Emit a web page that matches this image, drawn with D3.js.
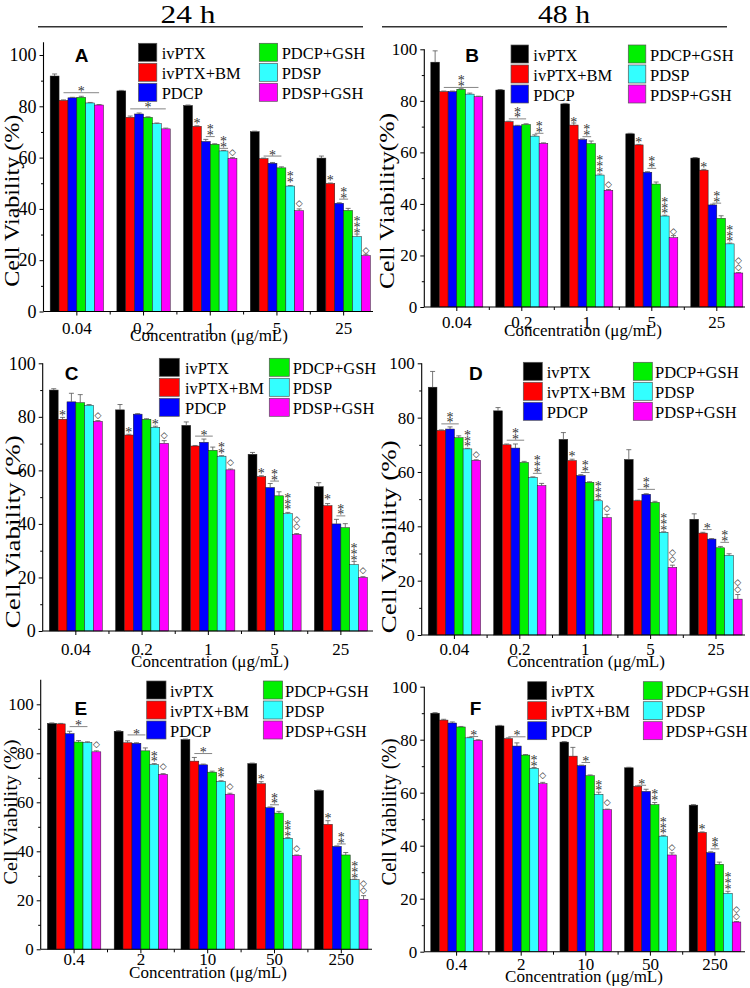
<!DOCTYPE html>
<html><head><meta charset="utf-8">
<script src="https://cdn.jsdelivr.net/npm/d3@7"></script>
<style>body{margin:0;background:#fff}svg{display:block}</style>
</head><body>
<script>
// ---------- DATA ----------
const series = ["ivPTX","ivPTX+BM","PDCP","PDCP+GSH","PDSP","PDSP+GSH"];
const concLow = ["0.04","0.2","1","5","25"];
const concHigh = ["0.4","2","10","50","250"];
const yTicks = [0,20,40,60,80,100];
const yMinor = [10,30,50,70,90];

const valuesA = [[91.8,82.3,83.3,83.5,81.3,80.5],[86,75.7,77,75.7,73.2,71.2],[80.3,72.2,66.3,65.2,62.6,59.7],[70.1,59.6,57.8,56,48.9,39.3],[59.8,49.9,42.2,39.4,29.2,21.8]];
const errorsA = [[0.8,0.2,0.2,0.4,0.2,0.2],[0.2,0.5,0.4,0.2,0.3,0.3],[0.2,0.2,0.8,0.2,0.2,0.3],[0.2,0.2,0.3,0.4,0.2,0.7],[0.8,0.2,0.2,0.8,1.0,0.5]];
const valuesB = [[95,83.6,83.6,84.5,82.6,81.6],[84.2,71.9,70.3,70.8,66.3,63.5],[78.8,70.6,65,63.4,51.2,45.3],[67.2,62.9,52.3,47.7,35.3,26.9],[57.8,53.1,39.6,34.4,24.5,13.2]];
const errorsB = [[4.4,0.2,0.2,0.2,0.4,0.2],[0.2,0.2,0.2,0.3,0.5,0.2],[0.2,0.8,0.2,1,0.4,0.3],[0.2,0.2,0.2,0.8,0.3,0.8],[0.2,0.3,0.3,1,0.3,0.2]];
const valuesC = [[90,79.1,85.6,85.3,84.3,78.3],[82.6,73.2,81,79.1,76.1,70.1],[76.8,69.1,70.5,67.5,65.3,60.2],[66,57.7,53.6,50.5,43.8,36.1],[53.9,46.8,40,38.6,24.8,20]];
const errorsC = [[0.5,0.7,3.2,3,0.3,0.3],[2,0.3,0.2,0.2,0.4,1],[1.3,0.2,1.2,1.2,0.2,0.3],[0.7,0.3,1.5,1.5,0.5,0.3],[1.5,0.8,1.7,1.5,1.2,0.3]];
const valuesD = [[91.2,75.3,75.8,72.6,68.5,64.3],[82.5,70,68.8,63.5,58,55],[72,64.2,58.7,56.2,49.4,43.2],[64.6,49.4,51.8,48.8,37.8,24.9],[42.6,37.5,35.3,32.1,29.3,13.2]];
const errorsD = [[5.8,0.2,0.8,0.7,0.2,0.2],[1.2,0.3,1.5,0.4,0.2,0.8],[2.5,0.5,0.3,0.2,0.5,1.2],[3.6,0.2,0.2,0.4,0.2,0.8],[2,0.3,0.2,0.5,0.6,1.7]];
const valuesE = [[92.2,92,88,84.6,84.4,80.6],[89,84.3,84.1,81,75.4,71.4],[85.6,76.8,75.3,72.3,68.5,63.3],[75.8,67.6,57.8,55.6,45.3,38.3],[64.8,51,42,38.5,28.4,20.4]];
const errorsE = [[0.2,0.2,1,0.6,0.3,0.4],[0.2,0.8,0.2,1.2,0.4,0.3],[0.2,1.5,0.3,0.4,0.3,0.4],[0.2,0.8,0.3,0.7,0.3,0.2],[0.2,1.5,0.2,1,0.2,1.5]];
const valuesF = [[90,87.4,86.3,84.8,80.7,79.8],[85.2,80.4,77.6,74.2,69.2,63.4],[79.1,73.8,70.2,66.4,59.4,53.6],[69.4,62.4,60.5,55.5,43.6,36.5],[55.3,45,37.4,33,22,11.2]];
const errorsF = [[0.2,0.3,0.4,0.2,0.2,0.2],[0.2,0.3,1.2,0.2,0.3,0.5],[0.2,3.3,0.2,0.3,0.8,0.2],[0.2,0.2,0.8,0.8,0.3,0.8],[0.2,0.2,0.3,0.8,0.8,0.2]];

// significance marks: [group, bar position, value of base, symbol, count, bracket from, bracket to]
const marksA = [[0,3,85.3,'*',1,1,5],[1,3,79,'*',1,1,5],[2,1,73.4,'*',1],[2,2.5,68.2,'*',2,2,3],[2,4,63.6,'*',2,3.5,4.5],[2,5,61,'◇',1],[3,2,60.6,'*',1,1,3],[3,4,50.3,'*',2],[3,5,40.8,'◇',1],[4,1,51,'*',1],[4,2.5,43.8,'*',2,2,3],[4,4,30.6,'*',3],[4,5,22.8,'◇',1]];
const marksB = [[0,3,85.2,'*',2,1,5],[1,2,73,'*',2,1,3],[1,4.5,67.4,'*',2,4,5],[2,1,71.5,'*',1],[2,2.5,66.1,'*',2,2,3],[2,4,52.3,'*',3],[2,5,46.5,'◇',1],[3,1,64,'*',1],[3,2.5,53.8,'*',2,2,3],[3,4,36.2,'*',3],[3,5,28,'◇',1],[4,1,54,'*',1],[4,2.5,40.3,'*',2,2,3],[4,4,25.3,'*',3],[4,5,14,'◇',2]];
const marksC = [[0,1,80.5,'*',1],[0,5,79.5,'◇',1],[1,1,74.3,'*',1],[1,4,77.3,'*',1],[1,5,71.8,'◇',1],[2,2,72.8,'*',1,1,3],[2,4,66.3,'*',2],[2,5,61.8,'◇',1],[3,1,58.7,'*',1],[3,2.5,56,'*',2,2,3],[3,4,45.3,'*',3],[3,5,37.8,'◇',2],[4,1,49,'*',1],[4,2.5,43,'*',2,2,3],[4,4,26.5,'*',3],[4,5,21.5,'◇',1]];
const marksD = [[0,2,77.7,'*',2,1,3],[0,4,69.3,'*',3],[0,5,65.5,'◇',1],[1,2,71.7,'*',2,1,3],[1,4.5,59.5,'*',3,4,5],[2,1,65.8,'*',1],[2,2.5,59.8,'*',2,2,3],[2,4,50.3,'*',3],[2,5,45.5,'◇',1],[3,2,53.6,'*',2,1,3],[3,4,38.5,'*',3],[3,5,26.5,'◇',2],[4,1.5,38.8,'*',1,1,2],[4,3.5,34.1,'*',2,3,4],[4,5,15.5,'◇',2]];
const marksE = [[0,3,90.9,'*',1,2,4],[0,5,82.2,'◇',1],[1,2,87.5,'*',1,1,3],[1,4,76.5,'*',2],[1,5,73.2,'◇',1],[2,2,79.9,'*',1,1,3],[2,4,70,'*',2],[2,5,65.2,'◇',1],[3,1,69.3,'*',1],[3,2.5,59,'*',2,2,3],[3,4,46,'*',3],[3,5,39.8,'◇',1],[4,1,53.5,'*',1],[4,2.5,43,'*',2,2,3],[4,4,29,'*',3],[4,5,22.8,'◇',2]];
const marksF = [[0,4.5,81.2,'*',1,4,5],[1,2,81.1,'*',1,1,3],[1,4,70,'*',2],[1,5,65.5,'◇',1],[2,2.5,71.4,'*',1,2,3],[2,4,60.7,'*',2],[2,5,55,'◇',1],[3,1.5,62.8,'*',1,1,2],[3,3,57,'*',2],[3,4,44.5,'*',3],[3,5,38.2,'◇',1],[4,1,46,'*',1],[4,2.5,38.8,'*',2,2,3],[4,4,23.5,'*',3],[4,5,12.2,'◇',2]];

// ---------- STYLE / LAYOUT ----------
const colors = ["#000000","#ff0000","#0000ff","#00f000","#33ffff","#ff00ff"];
const SERIF = "'Liberation Serif','Times New Roman',serif";
const SANS = "'Liberation Sans',Arial,sans-serif";

const panels = [
 {id:"A", vals:valuesA, errs:errorsA, marks:marksA, cats:concLow, x0:43.5, x1:377, axEnd:373, y0:311.5, y100:55, ymax:105,
  letter:[81.7,61.7], leg:{top:43.3, sx:[138.5,259.3], sw:18.3, tx:[161.7,281.7]},
  ylab:{x:19, y:200.7, fs:21.5, len:172, text:"Cell Viability (%)"}, yfs:18, tickY:334, xlab:[209,341]},
 {id:"B", vals:valuesB, errs:errorsB, marks:marksB, cats:concLow, x0:424.3, x1:749.3, axEnd:745, y0:307, y100:49.3, ymax:100,
  letter:[472,61.7], leg:{top:45, sx:[511,628.3], sw:17.5, tx:[533.3,650]},
  ylab:{x:394, y:201, fs:21, len:176, text:"Cell Viability(%)"}, yfs:17, tickY:328, xlab:[583,336]},
 {id:"C", vals:valuesC, errs:errorsC, marks:marksC, cats:concLow, x0:42.7, x1:374, axEnd:373, y0:631, y100:363.3, ymax:100,
  letter:[71.7,380], leg:{top:358.3, sx:[159.3,269.3], sw:20, tx:[185,292.7]},
  ylab:{x:19.5, y:531.7, fs:22, len:193, text:"Cell Viability (%)"}, yfs:18, tickY:655, xlab:[210,667]},
 {id:"D", vals:valuesD, errs:errorsD, marks:marksD, cats:concLow, x0:421.7, x1:748.7, axEnd:745, y0:635, y100:363.3, ymax:100,
  letter:[475.8,380], leg:{top:362.3, sx:[523.3,633.3], sw:19, tx:[546.7,655]},
  ylab:{x:396, y:536.7, fs:22, len:193, text:"Cell Viability (%)"}, yfs:17, tickY:655, xlab:[586,667]},
 {id:"E", vals:valuesE, errs:errorsE, marks:marksE, cats:concHigh, x0:40.7, x1:374.7, axEnd:372, y0:949.3, y100:704.3, ymax:110,
  letter:[80.8,715], leg:{top:681, sx:[146.7,263.3], sw:19.3, tx:[170,285]},
  ylab:{x:16.5, y:812, fs:19, len:145, text:"Cell Viability (%)"}, yfs:17, tickY:965, xlab:[208,978]},
 {id:"F", vals:valuesF, errs:errorsF, marks:marksF, cats:concHigh, x0:424.3, x1:747.3, axEnd:745, y0:951.7, y100:686.7, ymax:100,
  letter:[475.5,715], leg:{top:681.7, sx:[527.7,643.3], sw:19, tx:[551,665.7]},
  ylab:{x:396, y:812, fs:20, len:147, text:"Cell Viability (%)"}, yfs:17, tickY:970, xlab:[584,982]}
];

const svg = d3.select("body").append("svg").attr("width",750).attr("height",988);

// titles
[["24 h",188,38,363,55],["48 h",564,382,727,52]].forEach(([t,cx,l0,l1,len])=>{
  svg.append("text").attr("x",cx).attr("y",22.5).attr("text-anchor","middle")
    .attr("textLength",len).attr("lengthAdjust","spacingAndGlyphs")
    .style("font-family",SERIF).style("font-size","25px").text(t);
  svg.append("line").attr("x1",l0).attr("x2",l1).attr("y1",26.7).attr("y2",26.7)
    .attr("stroke","#333").attr("stroke-width",1.5);
});

panels.forEach(p=>{
  const g = svg.append("g");
  const y = d3.scaleLinear().domain([0,100]).range([p.y0,p.y100]);
  const x = d3.scaleBand().domain(p.cats).range([p.x0,p.x1]).paddingInner(0.2).paddingOuter(0.1);
  const xs = d3.scaleBand().domain(d3.range(series.length)).range([0,x.bandwidth()]);
  const posX = (gi,pos)=> x(p.cats[gi]) + xs.step()*(pos+0.5);

  // bars
  const rows = [];
  p.vals.forEach((row,gi)=>row.forEach((v,si)=>rows.push({gi,si,v,e:p.errs[gi][si]})));
  g.selectAll("rect.bar").data(rows).join("rect").attr("class","bar")
    .attr("x",d=>x(p.cats[d.gi])+xs(d.si)).attr("width",xs.bandwidth())
    .attr("y",d=>y(d.v)).attr("height",d=>y(0)-y(d.v))
    .attr("fill",d=>colors[d.si]).attr("stroke","#222").attr("stroke-width",0.5);
  // error bars
  const eb = g.selectAll("g.err").data(rows).join("g").attr("class","err")
    .attr("stroke","#555").attr("stroke-width",0.8);
  eb.append("line").attr("x1",d=>posX(d.gi,d.si)).attr("x2",d=>posX(d.gi,d.si))
    .attr("y1",d=>y(d.v)).attr("y2",d=>y(d.v+d.e));
  eb.append("line").attr("x1",d=>posX(d.gi,d.si)-2.5).attr("x2",d=>posX(d.gi,d.si)+2.5)
    .attr("y1",d=>y(d.v+d.e)).attr("y2",d=>y(d.v+d.e));

  // significance marks (one text element per stacked mark)
  const mg = g.append("g").style("opacity",0.99);
  p.marks.forEach(m=>{
    const [gi,pos,v,sym,n,b0,b1] = m;
    const cx = posX(gi,pos);
    let base = y(v);
    if (b0!==undefined){
      mg.append("line").attr("x1",posX(gi,b0)).attr("x2",posX(gi,b1)).attr("y1",base).attr("y2",base)
        .attr("stroke","#777").attr("stroke-width",0.9);
      base -= 1;
    }
    const star = sym==='*';
    const t = mg.append("text").attr("text-anchor","middle")
      .attr("fill", star ? "#333" : "#222")
      .style("font-family", star ? SERIF : "'DejaVu Sans',sans-serif")
      .style("font-size", star ? "14px" : "9px");
    const step = star ? 5.8 : 7;
    for (let k=0;k<n;k++){
      t.append("tspan").attr("x",cx).attr("y", star ? base - k*step + 4.6 : base - k*step - 0.5).text(sym);
    }
  });

  // y axis
  const ya = g.append("g").attr("transform",`translate(${p.x0},0)`)
    .call(d3.axisLeft(y).tickValues(yTicks).tickSize(4).tickPadding(3));
  ya.select(".domain").remove();
  ya.selectAll("text").style("font-family",SERIF).style("font-size",p.yfs+"px").attr("fill","#000");
  const ym = g.append("g").attr("transform",`translate(${p.x0},0)`)
    .call(d3.axisLeft(y).tickValues(yMinor).tickSize(2.5).tickFormat(""));
  ym.select(".domain").remove();
  g.append("line").attr("x1",p.x0).attr("x2",p.x0).attr("y1",y(0)).attr("y2",y(p.ymax))
    .attr("stroke","#000").attr("stroke-width",1.1);

  // x axis
  const xa = g.append("g").attr("transform",`translate(0,${p.y0})`)
    .call(d3.axisBottom(x).tickSize(4).tickPadding(3).tickFormat(""));
  xa.select(".domain").remove();
  const mids = p.cats.slice(1).map(c=>x(c) - x.step()*x.paddingInner()/2);
  g.selectAll("line.minor").data(mids).join("line").attr("class","minor")
    .attr("x1",d=>d).attr("x2",d=>d).attr("y1",p.y0).attr("y2",p.y0+3).attr("stroke","#000");
  g.append("line").attr("x1",p.x0).attr("x2",p.axEnd).attr("y1",p.y0).attr("y2",p.y0)
    .attr("stroke","#000").attr("stroke-width",1.1);
  g.selectAll("text.xt").data(p.cats).join("text").attr("class","xt")
    .attr("x",d=>x(d)+x.bandwidth()/2).attr("y",p.tickY).attr("text-anchor","middle")
    .style("font-family",SERIF).style("font-size","17px").text(d=>d);
  g.append("text").attr("x",p.xlab[0]).attr("y",p.xlab[1]).attr("text-anchor","middle")
    .style("font-family",SERIF).style("font-size","17px").text("Concentration (μg/mL)");

  // y label
  g.append("text").attr("transform",`translate(${p.ylab.x},${p.ylab.y}) rotate(-90)`)
    .attr("text-anchor","middle").attr("textLength",p.ylab.len).attr("lengthAdjust","spacingAndGlyphs")
    .style("font-family",SERIF).style("font-size",p.ylab.fs+"px").text(p.ylab.text);

  // panel letter
  g.append("text").attr("x",p.letter[0]).attr("y",p.letter[1]).attr("text-anchor","middle")
    .style("font-family",SANS).style("font-weight","bold").style("font-size","19px").text(p.id);

  // legend
  series.forEach((s,i)=>{
    const col = i<3?0:1, row = i%3;
    const top = p.leg.top + row*20;
    g.append("rect").attr("x",p.leg.sx[col]).attr("y",top).attr("width",p.leg.sw).attr("height",18)
      .attr("fill",colors[i]).attr("stroke","#555").attr("stroke-width",0.7);
    g.append("text").attr("x",p.leg.tx[col]).attr("y",top+15.5)
      .style("font-family",SERIF).style("font-size","16.5px").text(s);
  });
});
</script>
</body></html>
